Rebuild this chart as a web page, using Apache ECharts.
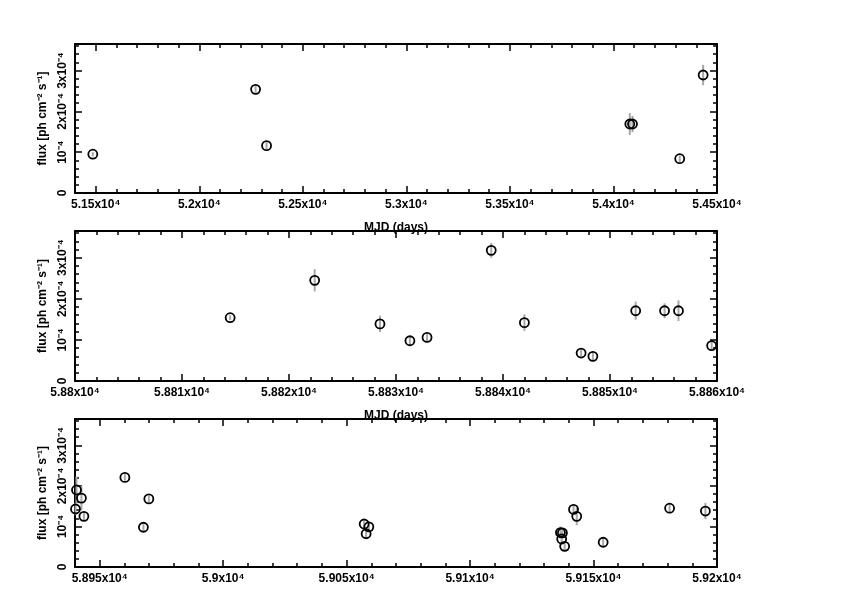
<!DOCTYPE html>
<html>
<head>
<meta charset="utf-8">
<script src="https://cdn.jsdelivr.net/npm/echarts@6/dist/echarts.min.js"></script>
<style>html,body{margin:0;padding:0;background:#fff}#c{width:842px;height:595px}</style>
</head>
<body>
<div id="c"></div>
<script>
// ---- data (flux in units of 1e-4 ph cm^-2 s^-1) ----
const mjdTop  = [51486, 52272, 52325, 54079, 54092, 54320, 54433];
const fluxTop = [0.95, 2.54, 1.16, 1.69, 1.69, 0.84, 2.89];
const errTop  = [0.05, 0.08, 0.08, 0.27, 0.2, 0.08, 0.25];

const mjdMid  = [58814.5, 58822.4, 58828.5, 58831.3, 58832.9, 58838.9, 58842.0, 58847.3, 58848.4, 58852.4, 58855.1, 58856.4, 58859.5];
const fluxMid = [1.54, 2.45, 1.39, 0.98, 1.06, 3.18, 1.42, 0.68, 0.60, 1.71, 1.71, 1.71, 0.86];
const errMid  = [0.06, 0.27, 0.2, 0.1, 0.08, 0.18, 0.2, 0.08, 0.1, 0.22, 0.18, 0.25, 0.1];

const mjdBot  = [58940.2, 58940.6, 58942.6, 58943.6, 58960.2, 58967.7, 58969.9, 59057.1, 59059.0, 59057.9, 59136.6, 59137.4, 59137.1, 59138.3, 59141.9, 59143.2, 59153.9, 59180.8, 59195.3];
const fluxBot = [1.43, 1.90, 1.70, 1.25, 2.21, 0.98, 1.68, 1.06, 0.99, 0.82, 0.85, 0.84, 0.69, 0.51, 1.42, 1.25, 0.61, 1.45, 1.38];
const errBot  = [0.15, 0.33, 0.3, 0.1, 0.08, 0.08, 0.08, 0.08, 0.08, 0.08, 0.15, 0.12, 0.1, 0.1, 0.1, 0.22, 0.08, 0.13, 0.2];

// ---- ticks ----
const xTicksTop  = [51500, 52000, 52500, 53000, 53500, 54000, 54500];
const xLabelsTop = ['5.15x10⁴', '5.2x10⁴', '5.25x10⁴', '5.3x10⁴', '5.35x10⁴', '5.4x10⁴', '5.45x10⁴'];
const xTicksMid  = [58800, 58810, 58820, 58830, 58840, 58850, 58860];
const xLabelsMid = ['5.88x10⁴', '5.881x10⁴', '5.882x10⁴', '5.883x10⁴', '5.884x10⁴', '5.885x10⁴', '5.886x10⁴'];
const xTicksBot  = [58950, 59000, 59050, 59100, 59150, 59200];
const xLabelsBot = ['5.895x10⁴', '5.9x10⁴', '5.905x10⁴', '5.91x10⁴', '5.915x10⁴', '5.92x10⁴'];
const yTicks     = [0, 1, 2, 3];
const yLabels    = ['0', '10⁻⁴', '2x10⁻⁴', '3x10⁻⁴'];

const xTitle = 'MJD (days)';
const yTitle = 'flux [ph cm⁻² s⁻¹]';

// ---- layout ----
const panels = [
  {mjd: mjdTop, flux: fluxTop, err: errTop, xmin: 51400, xmax: 54500, minor: 100, ticks: xTicksTop, labels: xLabelsTop, top: 44, height: 149},
  {mjd: mjdMid, flux: fluxMid, err: errMid, xmin: 58800, xmax: 58860, minor: 2, ticks: xTicksMid, labels: xLabelsMid, top: 231, height: 150},
  {mjd: mjdBot, flux: fluxBot, err: errBot, xmin: 58940, xmax: 59200, minor: 10, ticks: xTicksBot, labels: xLabelsBot, top: 419, height: 148}
];
const YMAX = 3.65;
const FONT = 'Liberation Sans';

const grid = [], xAxis = [], yAxis = [], series = [];
const lineStyle = {color: '#000', width: 2};
const tickStyle = {color: '#000', width: 1.5};

panels.forEach((p, g) => {
  grid.push({left: 75, right: 125, top: p.top, height: p.height, outerBoundsMode: 'none', containLabel: false});
  const base = {type: 'value', gridIndex: g, min: p.xmin, max: p.xmax, splitLine: {show: false}};
  // bottom major
  xAxis.push(Object.assign({}, base, {
    position: 'bottom',
    name: xTitle, nameLocation: 'middle', nameGap: 29,
    nameTextStyle: {fontFamily: FONT, fontSize: 12, fontWeight: 'bold', color: '#000'},
    axisLine: {show: true, onZero: false, lineStyle: lineStyle},
    axisTick: {show: true, inside: true, length: 7, lineStyle: tickStyle, customValues: p.ticks},
    axisLabel: {show: true, margin: 6, fontFamily: FONT, fontSize: 12, fontWeight: 'bold', color: '#000',
      customValues: p.ticks,
      formatter: v => p.labels[p.ticks.indexOf(v)] || ''}
  }));
  // bottom minor
  xAxis.push(Object.assign({}, base, {
    position: 'bottom', interval: p.minor,
    axisLine: {show: false, onZero: false},
    axisTick: {show: true, inside: true, length: 4, lineStyle: tickStyle},
    axisLabel: {show: false}
  }));
  // top major
  xAxis.push(Object.assign({}, base, {
    position: 'top',
    axisLine: {show: true, onZero: false, lineStyle: lineStyle},
    axisTick: {show: true, inside: true, length: 7, lineStyle: tickStyle, customValues: p.ticks},
    axisLabel: {show: false}
  }));
  // top minor
  xAxis.push(Object.assign({}, base, {
    position: 'top', interval: p.minor,
    axisLine: {show: false, onZero: false},
    axisTick: {show: true, inside: true, length: 4, lineStyle: tickStyle},
    axisLabel: {show: false}
  }));

  const ybase = {type: 'value', gridIndex: g, min: 0, max: YMAX, splitLine: {show: false}};
  yAxis.push(Object.assign({}, ybase, {
    position: 'left',
    name: yTitle, nameLocation: 'middle', nameGap: 25, nameRotate: 90,
    nameTextStyle: {fontFamily: FONT, fontSize: 12, fontWeight: 'bold', color: '#000'},
    axisLine: {show: true, onZero: false, lineStyle: lineStyle},
    axisTick: {show: true, inside: true, length: 7, lineStyle: tickStyle, customValues: yTicks},
    axisLabel: {show: true, rotate: 90, margin: 6, fontFamily: FONT, fontSize: 12, fontWeight: 'bold', color: '#000',
      customValues: yTicks,
      formatter: v => yLabels[yTicks.indexOf(v)] || ''}
  }));
  yAxis.push(Object.assign({}, ybase, {
    position: 'left', interval: 0.2,
    axisLine: {show: false, onZero: false},
    axisTick: {show: true, inside: true, length: 4, lineStyle: tickStyle},
    axisLabel: {show: false}
  }));
  yAxis.push(Object.assign({}, ybase, {
    position: 'right',
    axisLine: {show: true, onZero: false, lineStyle: lineStyle},
    axisTick: {show: true, inside: true, length: 7, lineStyle: tickStyle, customValues: yTicks},
    axisLabel: {show: false}
  }));
  yAxis.push(Object.assign({}, ybase, {
    position: 'right', interval: 0.2,
    axisLine: {show: false, onZero: false},
    axisTick: {show: true, inside: true, length: 4, lineStyle: tickStyle},
    axisLabel: {show: false}
  }));

  const data = p.mjd.map((x, i) => [x, p.flux[i], p.err[i]]);
  series.push({
    type: 'custom', xAxisIndex: 4 * g, yAxisIndex: 4 * g, clip: false, silent: true,
    data: data,
    encode: {x: 0, y: 1},
    renderItem: (params, api) => {
      const x = api.value(0), y = api.value(1), e = api.value(2);
      const a = api.coord([x, y - e]), b = api.coord([x, y + e]);
      return {type: 'line', shape: {x1: a[0], y1: a[1], x2: b[0], y2: b[1]},
        style: {stroke: '#a8a8a8', lineWidth: 2}};
    }
  });
  series.push({
    type: 'scatter', xAxisIndex: 4 * g, yAxisIndex: 4 * g, clip: false, silent: true,
    data: data.map(d => [d[0], d[1]]),
    symbol: 'circle', symbolSize: 9,
    itemStyle: {color: 'rgba(0,0,0,0)', borderColor: '#000', borderWidth: 1.8, opacity: 1}
  });
});

const chart = echarts.init(document.getElementById('c'), null, {renderer: 'canvas'});
chart.setOption({
  animation: false,
  backgroundColor: '#fff',
  grid, xAxis, yAxis, series
});
</script>
</body>
</html>
